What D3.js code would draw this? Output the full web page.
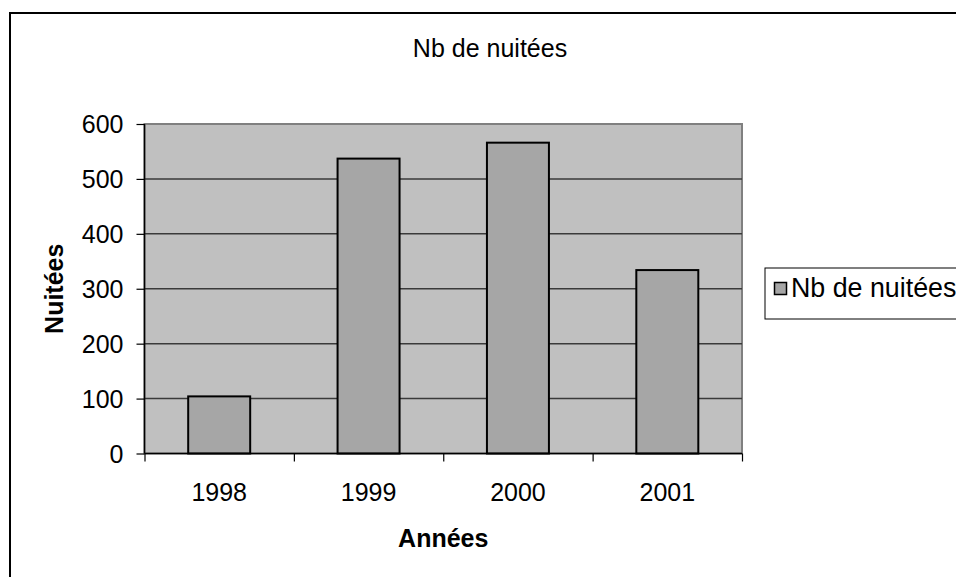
<!DOCTYPE html>
<html>
<head>
<meta charset="utf-8">
<script src="https://cdn.jsdelivr.net/npm/d3@7"></script>
<style>
  html, body { margin: 0; padding: 0; background: #fff; }
  svg { display: block; font-family: "Liberation Sans", Arial, sans-serif; }
</style>
</head>
<body>
<svg id="chart" width="956" height="577"></svg>
<script>
// Nights per year
const categories = ["1998", "1999", "2000", "2001"];
const nuitees = [104, 537, 566, 334];
const yTicks = [0, 100, 200, 300, 400, 500, 600];
const chartTitle = "Nb de nuitées";
const xTitle = "Années";
const yTitle = "Nuitées";
const seriesName = "Nb de nuitées";

const svg = d3.select("#chart");

// plot area
const plot = { left: 144.5, right: 742, top: 124, bottom: 453.5 };

const x = d3.scaleBand()
  .domain(categories)
  .range([plot.left, plot.right])
  .paddingInner(0.585)
  .paddingOuter(0.2925);

const xEdges = d3.scaleLinear()
  .domain([0, categories.length])
  .range([plot.left, plot.right]);

const y = d3.scaleLinear()
  .domain([0, 600])
  .range([plot.bottom, plot.top]);

// outer chart frame
svg.append("rect")
  .attr("x", 10).attr("y", 13)
  .attr("width", 970).attr("height", 600)
  .attr("fill", "#fff")
  .attr("stroke", "#000")
  .attr("stroke-width", 2);

// plot background
svg.append("rect")
  .attr("x", plot.left).attr("y", plot.top)
  .attr("width", plot.right - plot.left)
  .attr("height", plot.bottom - plot.top)
  .attr("fill", "#c0c0c0")
  .attr("stroke", "#808080")
  .attr("stroke-width", 2);

// horizontal gridlines
svg.append("g")
  .selectAll("line")
  .data(yTicks.filter(d => d > 0 && d < 600))
  .join("line")
  .attr("x1", plot.left).attr("x2", plot.right)
  .attr("y1", d => y(d)).attr("y2", d => y(d))
  .attr("stroke", "#3a3a3a")
  .attr("stroke-width", 1.5);

// bars
svg.append("g")
  .selectAll("rect")
  .data(categories.map((c, i) => ({ c, v: nuitees[i] })))
  .join("rect")
  .attr("x", d => x(d.c))
  .attr("y", d => y(d.v))
  .attr("width", x.bandwidth())
  .attr("height", d => y(0) - y(d.v))
  .attr("fill", "#a6a6a6")
  .attr("stroke", "#000")
  .attr("stroke-width", 2);

// y axis
const yAxis = svg.append("g")
  .attr("transform", `translate(${plot.left},0)`)
  .call(d3.axisLeft(y).tickValues(yTicks).tickSize(8).tickPadding(13).tickFormat(d3.format("d")));
yAxis.select(".domain").attr("stroke", "#000").attr("stroke-width", 1.5).attr("d", `M0,${plot.top}V${plot.bottom}`);
yAxis.selectAll(".tick line").attr("stroke", "#000").attr("stroke-width", 1.2);
yAxis.selectAll(".tick text")
  .attr("font-size", 25)
  .attr("font-family", "Liberation Sans, Arial, sans-serif")
  .attr("fill", "#000")
  .attr("dy", "0.35em");

// x axis: tick marks on category boundaries
const xTickAxis = svg.append("g")
  .attr("transform", `translate(0,${plot.bottom})`)
  .call(d3.axisBottom(xEdges).tickValues(d3.range(categories.length + 1)).tickSize(8).tickFormat(""));
xTickAxis.select(".domain").attr("stroke", "#000").attr("stroke-width", 1.5).attr("d", `M${plot.left},0H${plot.right}`);
xTickAxis.selectAll(".tick line").attr("stroke", "#000").attr("stroke-width", 1.2);

// x axis: category labels
const xLabelAxis = svg.append("g")
  .attr("transform", `translate(0,${plot.bottom})`)
  .call(d3.axisBottom(x).tickSize(0).tickPadding(0));
xLabelAxis.select(".domain").remove();
xLabelAxis.selectAll(".tick text")
  .attr("font-size", 25)
  .attr("font-family", "Liberation Sans, Arial, sans-serif")
  .attr("fill", "#000")
  .attr("y", 47)
  .attr("dy", 0);

// titles
svg.append("text")
  .attr("x", 490).attr("y", 56.5)
  .attr("text-anchor", "middle")
  .attr("font-size", 25)
  .text(chartTitle);

svg.append("text")
  .attr("x", (plot.left + plot.right) / 2).attr("y", 546.5)
  .attr("text-anchor", "middle")
  .attr("font-size", 25)
  .attr("font-weight", "bold")
  .text(xTitle);

svg.append("text")
  .attr("transform", `translate(63,${(plot.top + plot.bottom) / 2}) rotate(-90)`)
  .attr("text-anchor", "middle")
  .attr("font-size", 25)
  .attr("font-weight", "bold")
  .text(yTitle);

// legend
const legend = svg.append("g");
legend.append("rect")
  .attr("x", 765).attr("y", 268)
  .attr("width", 200).attr("height", 51)
  .attr("fill", "#fff")
  .attr("stroke", "#000")
  .attr("stroke-width", 1);
legend.append("rect")
  .attr("x", 774.5).attr("y", 282.5)
  .attr("width", 12).attr("height", 12)
  .attr("fill", "#a6a6a6")
  .attr("stroke", "#000")
  .attr("stroke-width", 1.5);
legend.append("text")
  .attr("x", 791).attr("y", 297)
  .attr("font-size", 26.8)
  .text(seriesName);
</script>
</body>
</html>
